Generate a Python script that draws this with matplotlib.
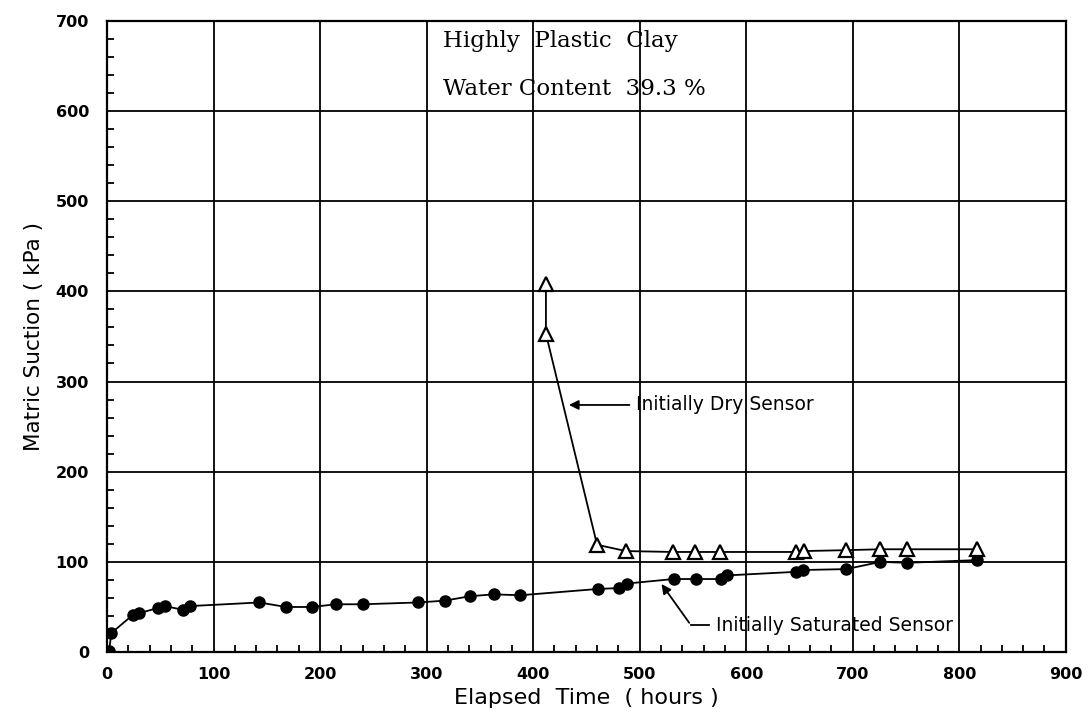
import numpy as np
import matplotlib
matplotlib.use('Agg')
import matplotlib.pyplot as plt
from matplotlib.ticker import MultipleLocator

# data
sat_hours = [0, 2, 4, 24, 30, 48, 54, 71, 78, 143, 168, 192, 215, 240, 292, 317, 341, 363,
             388, 461, 481, 488, 532, 553, 576, 582, 647, 653, 694, 726, 751, 817]
sat_suction = [0, 1, 21, 41, 43, 49, 51, 47, 51, 55, 50, 50, 53, 53, 55, 57, 62, 64,
               63, 70, 71, 76, 81, 81, 81, 85, 89, 91, 92, 100, 99, 102]

dry_hours = [412, 412, 460, 487, 531, 552, 575, 647, 654, 694, 726, 751, 817]
dry_suction = [408, 353, 119, 112, 111, 111, 111, 111, 112, 113, 114, 114, 114]

x_ticks = np.arange(0, 901, 100)
y_ticks = np.arange(0, 701, 100)

plt.rcParams['font.family'] = ['DejaVu Sans']

fig = plt.figure(figsize=(10.92, 7.15), dpi=100)
ax = fig.add_axes([0.098, 0.088, 0.878, 0.883])

ax.plot(sat_hours, sat_suction, '-o', color='black', lw=1.3, ms=8, zorder=4)
ax.plot(dry_hours, dry_suction, '-^', color='black', lw=1.3, ms=9.5,
        mfc='white', mec='black', mew=1.6, zorder=5)

ax.set_xlim(0, 900)
ax.set_ylim(0, 700)
ax.set_xticks(x_ticks)
ax.set_yticks(y_ticks)
ax.xaxis.set_minor_locator(MultipleLocator(20))
ax.yaxis.set_minor_locator(MultipleLocator(20))
ax.tick_params(which='major', length=0, labelsize=11.5)
ax.tick_params(axis='x', which='major', pad=11)
ax.tick_params(axis='y', which='major', pad=13)
ax.tick_params(which='minor', direction='in', length=5, width=1.3, color='black')
for lab in ax.get_xticklabels() + ax.get_yticklabels():
    lab.set_fontweight('bold')

ax.grid(True, which='major', color='black', lw=1.3)
ax.set_axisbelow(True)
for s in ax.spines.values():
    s.set_linewidth(1.6)

ax.set_xlabel('Elapsed  Time  ( hours )', fontsize=16, labelpad=4)
ax.set_ylabel('Matric Suction ( kPa )', fontsize=15.5, labelpad=8)

ax.text(315, 677, 'Highly  Plastic  Clay', family='DejaVu Serif', fontsize=16.5,
        va='center', ha='left')
ax.text(315, 624, 'Water Content  39.3 %', family='DejaVu Serif', fontsize=16.5,
        va='center', ha='left')

# annotations
ax.annotate('', xy=(431, 274), xytext=(493, 274),
            arrowprops=dict(arrowstyle='-|>', color='black', lw=1.3, mutation_scale=14))
ax.text(497, 274, 'Initially Dry Sensor', fontsize=13.5, va='center', ha='left')

ax.plot([548, 565], [30, 30], color='black', lw=1.3)
ax.annotate('', xy=(519, 78), xytext=(548, 30),
            arrowprops=dict(arrowstyle='-|>', color='black', lw=1.3, mutation_scale=14))
ax.text(572, 29, 'Initially Saturated Sensor', fontsize=13.5, va='center', ha='left')

fig.savefig('out.png', dpi=100)
